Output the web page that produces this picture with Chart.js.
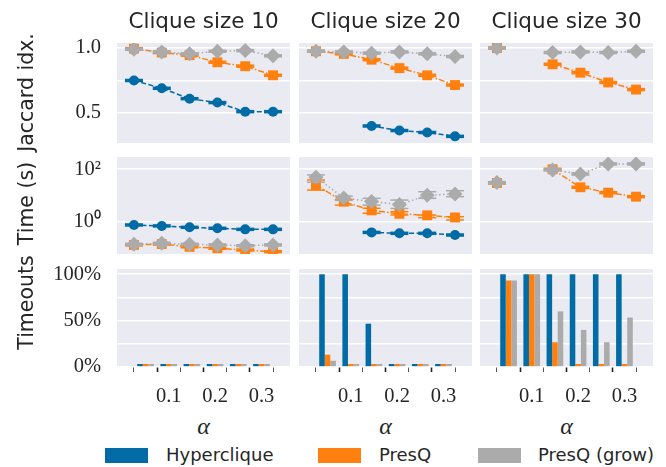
<!DOCTYPE html>
<html>
<head>
<meta charset="utf-8">
<script src="https://cdn.jsdelivr.net/npm/chart.js@4/dist/chart.umd.min.js"></script>
<style>
  body { margin: 0; background: #fff; width: 666px; height: 467px; position: relative; overflow: hidden;
         font-family: 'DejaVu Sans', sans-serif; color: #262626; }
  canvas { position: absolute; }
  .title { position: absolute; top: 10px; width: 173px; text-align: center; font-size: 21.5px; line-height: 1; white-space: nowrap; }
  .ylab { position: absolute; width: 160px; height: 21px; text-align: center; font-size: 20.5px; line-height: 1;
          white-space: nowrap; transform: rotate(-90deg); }
  .xlab { position: absolute; top: 414px; width: 173px; text-align: center; font-family: 'Liberation Serif', serif;
          font-style: italic; font-size: 24px; line-height: 1; }
  .patch { position: absolute; top: 448px; width: 43px; height: 15px; }
  .ltext { position: absolute; top: 446px; font-size: 18px; line-height: 1; white-space: nowrap; }
</style>
</head>
<body>
<script>
// alpha categories (plotted at index 0..5)
const alphaValues = [0.05, 0.1, 0.15, 0.2, 0.25, 0.3];
const alphaLabels = ['', '0.1', '', '0.2', '', '0.3'];
const colTitles = ['Clique size 10', 'Clique size 20', 'Clique size 30'];
const rowTitles = ['Jaccard idx.', 'Time (s)', 'Timeouts'];
const seriesNames = ['Hyperclique', 'PresQ', 'PresQ (grow)'];

// Jaccard index
const jac10Hyper = [0.75, 0.69, 0.61, 0.58, 0.51, 0.51];
const jac10PresQ = [0.995, 0.965, 0.945, 0.89, 0.86, 0.79];
const jac10Grow  = [0.99, 0.97, 0.955, 0.975, 0.98, 0.94];
const jac20Hyper = [null, null, 0.40, 0.365, 0.35, 0.32];
const jac20PresQ = [0.975, 0.955, 0.91, 0.845, 0.79, 0.715];
const jac20Grow  = [0.975, 0.97, 0.96, 0.97, 0.955, 0.935];
const jac30Hyper = [null, null, null, null, null, null];
const jac30PresQ = [1.0, null, 0.875, 0.81, 0.735, 0.68];
const jac30Grow  = [1.0, null, 0.965, 0.97, 0.965, 0.975];

// run time in seconds
const time10Hyper = [0.75, 0.69, 0.61, 0.56, 0.51, 0.51];
const time10PresQ = [0.13, 0.14, 0.11, 0.097, 0.083, 0.072];
const time10Grow  = [0.137, 0.15, 0.137, 0.13, 0.121, 0.13];
const time20Hyper = [null, null, 0.39, 0.36, 0.36, 0.31];
const time20PresQ = [25, 5.8, 2.7, 2.0, 1.75, 1.45];
const time20Grow  = [50, 8, 5.9, 4.5, 10.2, 11.4];
const time30Hyper = [null, null, null, null, null, null];
const time30PresQ = [30, null, 100, 20.6, 12.8, 9];
const time30Grow  = [31, null, 94, 66, 160, 160];

// error bar ends, clique size 20 timings
const time20PresQLo = [16, 4.3, 2.1, 1.8, 1.42, 1.16];
const time20PresQHi = [39, 7.1, 3.25, 2.4, 1.8, 1.55];
const time20GrowLo  = [32, 6.5, 4.3, 3.2, 7.8, 9];
const time20GrowHi  = [61, 9.5, 7.8, 6.7, 13.9, 15.2];

// fraction of runs that timed out
const to10Hyper = [0, 0, 0, 0, 0, 0];
const to10PresQ = [0, 0, 0, 0, 0, 0];
const to10Grow  = [0, 0, 0, 0, 0, 0];
const to20Hyper = [1, 1, 0.467, 0, 0, 0];
const to20PresQ = [0.133, 0, 0, 0, 0, 0];
const to20Grow  = [0.067, 0, 0, 0, 0, 0];
const to30Hyper = [1, 1, 1, 1, 1, 1];
const to30PresQ = [0.933, 1, 0.267, 0, 0, 0];
const to30Grow  = [0.933, 1, 0.6, 0.4, 0.267, 0.533];

// y axis ticks
const jacTicks = [0.5, 0.75, 1.0];
const jacTickLabels = ['0.5', '', '1.0'];
const timeTicks = [1, 100];
const timeTickLabels = ['10\u2070', '10\u00b2'];
const pctTicks = [0, 0.25, 0.5, 0.75, 1];
const pctTickLabels = ['0%', '', '50%', '', '100%'];

const colors = ['#006BA4', '#FF800E', '#ABABAB'];
const markers = ['circle', 'rect', 'rectRot'];
const markerRadius = [5, 7, 7.5];
const dashes = [[5, 2.5], [6, 2, 1.5, 2], [1.5, 2.5]];

// panel geometry
const panelLeft = [117, 299, 480];
const panelTop = [43, 157, 269];
const panelH = [100, 97, 98];
const panelW = 173;
const axisW = 117;
const axisH = 45;
const padTop = 12;
const tickFont = { family: 'Liberation Serif', size: 20.5 };

const yScales = [
  { type: 'linear', min: 0.269, max: 1.0385, ticks: jacTicks, labels: jacTickLabels },
  { type: 'logarithmic', min: 0.0585, max: 294, ticks: timeTicks, labels: timeTickLabels },
  { type: 'linear', min: 0, max: 1.057, ticks: pctTicks, labels: pctTickLabels }
];

const jacAll = [[jac10Hyper, jac10PresQ, jac10Grow], [jac20Hyper, jac20PresQ, jac20Grow], [jac30Hyper, jac30PresQ, jac30Grow]];
const timeAll = [[time10Hyper, time10PresQ, time10Grow], [time20Hyper, time20PresQ, time20Grow], [time30Hyper, time30PresQ, time30Grow]];
const toAll = [[to10Hyper, to10PresQ, to10Grow], [to20Hyper, to20PresQ, to20Grow], [to30Hyper, to30PresQ, to30Grow]];
const errAll = { 1: [null, [time20PresQLo, time20PresQHi], [time20GrowLo, time20GrowHi]] };

const panelBg = {
  id: 'panelBg',
  beforeDraw(chart) {
    const { ctx, chartArea: a } = chart;
    ctx.save();
    ctx.fillStyle = '#EAEAF2';
    ctx.fillRect(a.left, a.top, a.width, a.height);
    ctx.restore();
  }
};

const toXY = arr => arr.map((v, i) => ({ x: i, y: v }));

function lineDatasets(values, errs) {
  const out = [];
  values.forEach((vals, s) => {
    const base = 1 + 2 * (2 - s); // grey on top, blue at the bottom
    out.push({
      data: toXY(vals), borderColor: colors[s], backgroundColor: colors[s], borderWidth: 1.5,
      borderDash: dashes[s], pointStyle: markers[s], pointRadius: markerRadius[s],
      pointBackgroundColor: colors[s], pointBorderWidth: 0, spanGaps: false, order: base
    });
    const e = errs && errs[s];
    const capSets = e ? e : [vals];
    capSets.forEach(arr => {
      out.push({
        data: toXY(arr), showLine: false, pointStyle: 'line', pointRadius: 9,
        pointBorderColor: colors[s], pointBorderWidth: e ? 1.5 : 3.5, order: base + 1
      });
    });
  });
  return out;
}

function barDatasets(values) {
  return values.map((vals, s) => ({
    label: seriesNames[s], data: toXY(vals), backgroundColor: colors[s], borderWidth: 0,
    categoryPercentage: 0.72, barPercentage: 1, minBarLength: 3
  }));
}

function makePanel(row, col) {
  const yw = col === 0 ? axisW : 0;
  const xh = row === 2 ? axisH : 0;
  const canvas = document.createElement('canvas');
  canvas.width = panelW + yw;
  canvas.height = panelH[row] + xh + padTop;
  canvas.style.left = (panelLeft[col] - yw) + 'px';
  canvas.style.top = (panelTop[row] - padTop) + 'px';
  document.body.appendChild(canvas);

  const spec = yScales[row];
  const datasets = row === 0 ? lineDatasets(jacAll[col])
    : row === 1 ? lineDatasets(timeAll[col], errAll[col])
    : barDatasets(toAll[col]);

  new Chart(canvas, {
    type: row === 2 ? 'bar' : 'line',
    data: { datasets },
    options: {
      responsive: false, animation: false, events: [],
      layout: { padding: { top: padTop, left: 0, right: 0, bottom: 0 }, autoPadding: false },
      plugins: { legend: { display: false }, tooltip: { enabled: false } },
      scales: {
        x: {
          type: 'linear', min: -0.61, max: 5.61, display: row === 2,
          afterBuildTicks: s => { s.ticks = alphaValues.map((a, i) => ({ value: i })); },
          afterFit: s => { s.height = xh; s.paddingLeft = 0; s.paddingRight = 0; },
          ticks: { callback: (v, i) => alphaLabels[i], padding: 12, autoSkip: false, maxRotation: 0,
                   font: tickFont, color: '#262626' },
          grid: {
            drawOnChartArea: false, drawTicks: true, tickLength: 5,
            tickColor: c => alphaLabels[c.index] ? '#262626' : '#555',
            tickWidth: c => alphaLabels[c.index] ? 1.6 : 1
          },
          border: { display: false }
        },
        y: {
          type: spec.type, min: spec.min, max: spec.max,
          afterBuildTicks: s => { s.ticks = spec.ticks.map(v => ({ value: v })); },
          afterFit: s => { s.width = yw; s.paddingTop = 0; s.paddingBottom = 0; },
          ticks: { display: col === 0, callback: (v, i) => spec.labels[i], padding: 16, autoSkip: false,
                   font: tickFont, color: '#262626' },
          grid: { color: '#ffffff', lineWidth: 1.6, drawTicks: false },
          border: { display: false }
        }
      }
    },
    plugins: [panelBg]
  });
}

for (let r = 0; r < 3; r++) for (let c = 0; c < 3; c++) makePanel(r, c);

// titles and axis labels
colTitles.forEach((t, c) => {
  const d = document.createElement('div');
  d.className = 'title'; d.textContent = t; d.style.left = panelLeft[c] + 'px';
  document.body.appendChild(d);
  const x = document.createElement('div');
  x.className = 'xlab'; x.textContent = '\u03b1'; x.style.left = panelLeft[c] + 'px';
  document.body.appendChild(x);
});
const rowLabelY = [92.5, 203.5, 302];
rowTitles.forEach((t, r) => {
  const d = document.createElement('div');
  d.className = 'ylab'; d.textContent = t;
  d.style.left = (26 - 80) + 'px';
  d.style.top = (rowLabelY[r] - 10.5) + 'px';
  document.body.appendChild(d);
});

// legend
const legendPatchX = [105, 318, 478];
const legendTextX = [166, 379, 538];
seriesNames.forEach((n, s) => {
  const p = document.createElement('div');
  p.className = 'patch'; p.style.left = legendPatchX[s] + 'px'; p.style.background = colors[s];
  document.body.appendChild(p);
  const t = document.createElement('div');
  t.className = 'ltext'; t.style.left = legendTextX[s] + 'px'; t.textContent = n;
  document.body.appendChild(t);
});
</script>
</body>
</html>
